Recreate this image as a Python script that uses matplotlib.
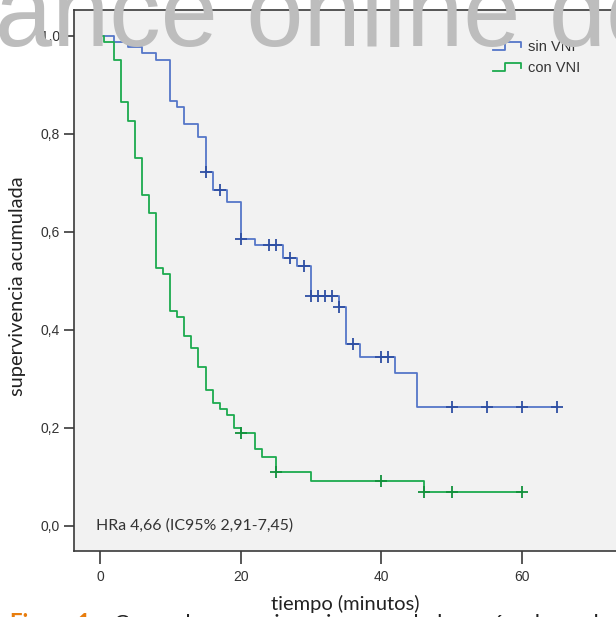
import numpy as np
import matplotlib
matplotlib.use("Agg")
import matplotlib.pyplot as plt
from matplotlib.lines import Line2D
from matplotlib.legend_handler import HandlerBase

# ---- data ----
sin_t = [0, 2, 4, 6, 8, 10, 11, 12, 14, 15, 16, 18, 20, 22, 26, 28, 30, 34, 35, 37, 42, 45, 65]
sin_s = [1.0, 0.987, 0.976, 0.964, 0.950, 0.866, 0.854, 0.819, 0.793, 0.722, 0.685, 0.661,
         0.585, 0.572, 0.545, 0.530, 0.468, 0.445, 0.370, 0.344, 0.312, 0.242, 0.242]
sin_cens = [15, 17, 20, 24, 25, 27, 29, 30, 31, 32, 33, 34, 36, 40, 41, 50, 55, 60, 65]

con_t = [0, 0.5, 2, 3, 4, 5, 6, 7, 8, 9, 10, 11, 12, 13, 14, 15, 16, 17, 18, 19, 20, 22, 23, 25, 30, 46, 60]
con_s = [1.0, 0.987, 0.950, 0.865, 0.825, 0.750, 0.675, 0.638, 0.526, 0.513, 0.438, 0.426, 0.387,
         0.362, 0.324, 0.276, 0.251, 0.238, 0.225, 0.200, 0.188, 0.156, 0.140, 0.110, 0.091, 0.068, 0.068]
con_cens = [20, 25, 40, 46, 50, 60]

labels = ["sin VNI", "con VNI"]
x_ticks = [0, 20, 40, 60]
y_ticks = [0.0, 0.2, 0.4, 0.6, 0.8, 1.0]
y_ticklabels = ["0,0", "0,2", "0,4", "0,6", "0,8", "1,0"]
hr_text = "HRa 4,66 (IC95% 2,91-7,45)"
xlabel = "tiempo (minutos)"
ylabel = "supervivencia acumulada"
watermark = "ance online de"
caption_a = "Figura 1."
caption_b = "Curva de supervivencia acumulada según el uso de ventilación no invasiva"

blue = "#5577c8"
blue_dark = "#2e4fa3"
green = "#1daa4f"
green_dark = "#12913c"

W, H = 616, 617
fig = plt.figure(figsize=(W / 100, H / 100), dpi=100)
fig.patch.set_facecolor("white")

ax_left, ax_right = 74 / W, 641 / W
ax_bottom, ax_top = 1 - 551 / H, 1 - 9.5 / H
ax = fig.add_axes([ax_left, ax_bottom, ax_right - ax_left, ax_top - ax_bottom])
ax.set_facecolor("#f2f2f2")

px_per_x = 7.035
x0_px = 100
ax.set_xlim((74 - x0_px) / px_per_x, (641 - x0_px) / px_per_x)
ax.set_ylim((525.5 - 551) / 490, (525.5 - 9.5) / 490)


def surv_at(ts, ss, t):
    i = np.searchsorted(ts, t, side="right") - 1
    return ss[i]


lines = []
for ts, ss, cens, c, cd, lab in [(sin_t, sin_s, sin_cens, blue, blue_dark, labels[0]),
                                 (con_t, con_s, con_cens, green, green_dark, labels[1])]:
    ln, = ax.step(ts, ss, where="post", color=c, lw=1.3, label=lab, zorder=3)
    lines.append(ln)
    cy = [surv_at(np.array(ts), np.array(ss), t) for t in cens]
    ax.plot(cens, cy, ls="none", marker="+", ms=8, mew=1.3, color=cd, zorder=4)

for side in ["left", "bottom", "top"]:
    ax.spines[side].set_color("#3a3a3a")
    ax.spines[side].set_linewidth(1.2)
ax.spines["right"].set_visible(False)

ax.set_xticks(x_ticks)
ax.set_xticklabels([str(v) for v in x_ticks])
ax.set_yticks(y_ticks)
ax.set_yticklabels(y_ticklabels)
ax.tick_params(axis="both", direction="out", length=7, width=1.2, color="#3a3a3a",
               labelsize=10, labelcolor="#333333", pad=3)
for lab in ax.get_xticklabels() + ax.get_yticklabels():
    lab.set_family("Liberation Sans")
ax.tick_params(axis="x", length=9, pad=5)

ax.text((96 - x0_px) / px_per_x, 0.0, hr_text, fontsize=11.4, family="Lato", color="#333333",
        va="center", ha="left")

fig.text(18 / W, 1 - 286 / H, ylabel, rotation=90, fontsize=14.4, family="Lato",
         color="#222222", ha="center", va="center")
fig.text(345 / W, 1 - 604 / H, xlabel, fontsize=14.5, family="Lato", color="#222222",
         ha="center", va="center")


class StepHandler(HandlerBase):
    def create_artists(self, legend, orig_handle, xdescent, ydescent, width, height, fontsize, trans):
        xs = np.array([0, 0.45, 0.45, 1.0, 1.0]) * width - xdescent
        ys = np.array([0.05, 0.05, 0.85, 0.85, 0.35]) * height - ydescent
        l = Line2D(xs, ys, color=orig_handle.get_color(), lw=1.3, transform=trans)
        return [l]


leg = ax.legend(handles=lines, labels=labels, handler_map={Line2D: StepHandler()},
                loc="upper left", bbox_to_anchor=(493 / W, 1 - 40 / H), bbox_transform=fig.transFigure,
                frameon=False, fontsize=10.5, handlelength=1.9, handletextpad=0.5, labelspacing=0.45,
                borderpad=0, borderaxespad=0)
for t in leg.get_texts():
    t.set_color("#333333")
    t.set_family("Liberation Sans")

# watermark overlay
fig.text(-5 / W, 1 - 46 / H, watermark, fontsize=74, family="Liberation Sans", color="#bdbdbd",
         ha="left", va="baseline", zorder=10)

# caption (only top visible)
fig.text(10 / W, 1 - 630 / H, caption_a, fontsize=16, family="Lato", color="#e87d0d",
         ha="left", va="baseline", fontweight="bold")
fig.text(114 / W, 1 - 630 / H, caption_b, fontsize=16, family="Lato", color="#222222",
         ha="left", va="baseline")

fig.savefig("out.png", dpi=100)
